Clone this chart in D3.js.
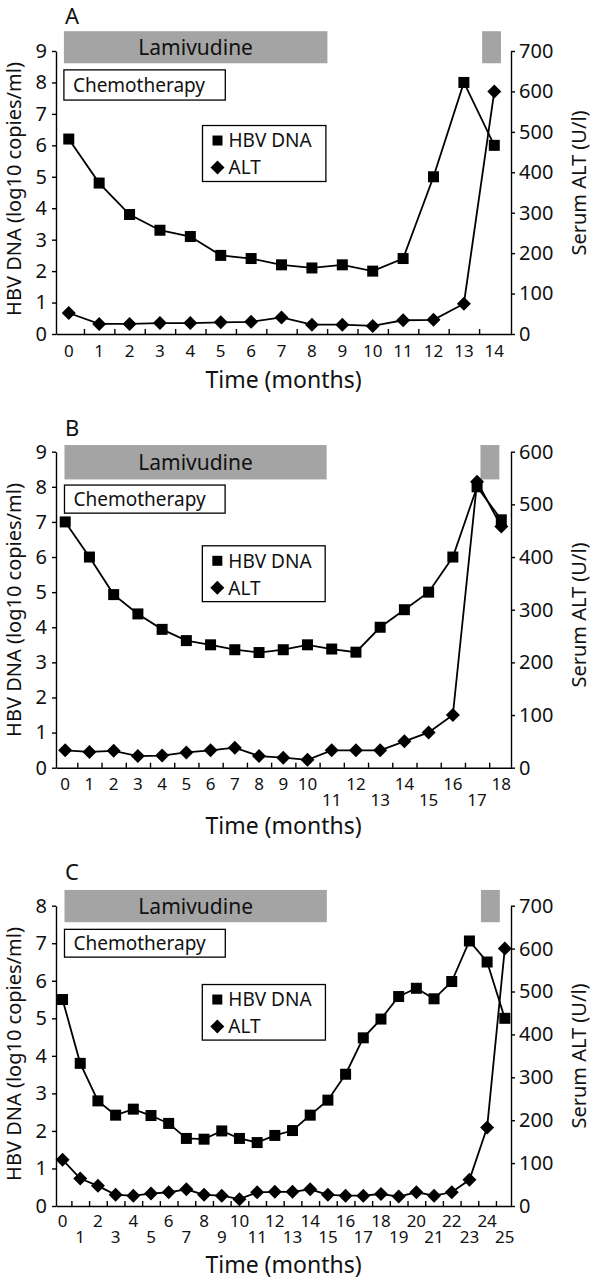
<!DOCTYPE html>
<html><head><meta charset="utf-8">
<script src="https://cdnjs.cloudflare.com/ajax/libs/d3/7.8.5/d3.min.js"></script>
<style>
body{margin:0;background:#fff}
svg{display:block}
text{font-family:'Noto Sans',sans-serif;fill:#111}
</style>
</head><body>
<svg id="chart" width="594" height="1280"></svg>
<script>
// ---------- DATA ----------
const monthsA = [0,1,2,3,4,5,6,7,8,9,10,11,12,13,14];
const hbvA = [6.2,4.8,3.8,3.3,3.1,2.5,2.4,2.2,2.1,2.2,2.0,2.4,5.0,8.0,6.0];
const altA = [52,25,25,27,27,29,30,41,23,23,20,34,35,75,600];

const monthsB = [0,1,2,3,4,5,6,7,8,9,10,11,12,13,14,15,16,17,18];
const hbvB = [7.0,6.0,4.93,4.38,3.94,3.62,3.5,3.36,3.28,3.36,3.5,3.38,3.29,4.0,4.5,5.0,6.0,8.0,7.06];
const altB = [33,30,32,22,23,29,33,38,22,19,15,33,33,33,50,67,100,543,458];

const monthsC = [0,1,2,3,4,5,6,7,8,9,10,11,12,13,14,15,16,17,18,19,20,21,22,23,24,25];
const hbvC = [5.5,3.8,2.8,2.42,2.58,2.41,2.2,1.8,1.78,2.0,1.8,1.69,1.88,2.01,2.42,2.82,3.51,4.48,4.98,5.58,5.8,5.52,5.98,7.06,6.5,5.0];
const altC = [108,64,47,26,24,29,32,39,26,24,16,32,33,33,39,26,24,24,28,22,32,24,32,61,183,600];

// tick labels drawn on the lower row
const lowerRowA = [];
const lowerRowB = [11,13,15,17];
const lowerRowC = [1,3,5,7,9,11,13,15,17,19,21,23,25];

const leftTicksA = [0,1,2,3,4,5,6,7,8,9];
const rightTicksA = [0,100,200,300,400,500,600,700];
const leftTicksB = [0,1,2,3,4,5,6,7,8,9];
const rightTicksB = [0,100,200,300,400,500,600];
const leftTicksC = [0,1,2,3,4,5,6,7,8];
const rightTicksC = [0,100,200,300,400,500,600,700];

const seriesNames = ["HBV DNA","ALT"];
const leftTitle = "HBV DNA (log10 copies/ml)";
const rightTitle = "Serum ALT (U/l)";
const xTitle = "Time (months)";

// ---------- LAYOUT ----------
const panels = [
  {label:"A", months:monthsA, hbv:hbvA, alt:altA, lower:lowerRowA, lt:leftTicksA, rt:rightTicksA,
   yMax:9, altMax:700, xDomain:[-0.42,14.55], yTop:51, yBot:334,
   lam:[-0.16,8.51,9.63,8.61], lam2:[13.6,14.22], chemo:[-0.16,5.15,8.40,7.44], legend:[4.4,8.46,6.63,4.85],
   labelY:24, leftTitleY:189, rightTitleY:183, xTitleY:388, row1:357, row2:373},
  {label:"B", months:monthsB, hbv:hbvB, alt:altB, lower:lowerRowB, lt:leftTicksB, rt:rightTicksB,
   yMax:9, altMax:600, xDomain:[-0.38,18.4], yTop:451.7, yBot:767.7,
   lam:[-0.03,10.79,9.19,8.21], lam2:[17.14,17.92], chemo:[-0.03,6.6,8.05,7.25], legend:[5.66,10.73,6.32,4.73],
   labelY:436, leftTitleY:610, rightTitleY:615, xTitleY:834, row1:790, row2:806},
  {label:"C", months:monthsC, hbv:hbvC, alt:altC, lower:lowerRowC, lt:leftTicksC, rt:rightTicksC,
   yMax:8, altMax:700, xDomain:[-0.37,25.35], yTop:905.7, yBot:1206,
   lam:[0.11,14.94,8.42,7.56], lam2:[23.65,24.72], chemo:[0.11,9.2,7.37,6.63], legend:[7.9,14.86,5.90,4.42],
   labelY:880, leftTitleY:1054, rightTitleY:1056, xTitleY:1273, row1:1227, row2:1243}
];

const xLeft = 56, xRight = 511;
const gray = "#a4a4a4";
const svg = d3.select("#chart");

function square(g, x, y, s){ g.append("rect").attr("x",x-s/2).attr("y",y-s/2).attr("width",s).attr("height",s).attr("fill","#000"); }
function diamond(g, x, y, r){ g.append("path").attr("d",`M${x},${y-r}L${x+r},${y}L${x},${y+r}L${x-r},${y}Z`).attr("fill","#000"); }

panels.forEach(p => {
  const g = svg.append("g");
  const x = d3.scaleLinear().domain(p.xDomain).range([xLeft, xRight]);
  const yL = d3.scaleLinear().domain([0,p.yMax]).range([p.yBot, p.yTop]);
  const yR = d3.scaleLinear().domain([0,p.altMax]).range([p.yBot, p.yTop]);

  // panel letter
  g.append("text").attr("x",65).attr("y",p.labelY).attr("font-size",22).text(p.label);

  // treatment bars
  g.append("rect").attr("x",x(p.lam[0])).attr("y",yL(p.lam[2]))
    .attr("width",x(p.lam[1])-x(p.lam[0])).attr("height",yL(p.lam[3])-yL(p.lam[2])).attr("fill",gray);
  g.append("rect").attr("x",x(p.lam2[0])).attr("y",yL(p.lam[2]))
    .attr("width",x(p.lam2[1])-x(p.lam2[0])).attr("height",yL(p.lam[3])-yL(p.lam[2])).attr("fill",gray);
  g.append("text").attr("x",(x(p.lam[0])+x(p.lam[1]))/2).attr("y",(yL(p.lam[2])+yL(p.lam[3]))/2)
    .attr("dy","0.36em").attr("text-anchor","middle").attr("font-size",21).text("Lamivudine");

  g.append("rect").attr("x",x(p.chemo[0])).attr("y",yL(p.chemo[2]))
    .attr("width",x(p.chemo[1])-x(p.chemo[0])).attr("height",yL(p.chemo[3])-yL(p.chemo[2]))
    .attr("fill","#fff").attr("stroke","#000").attr("stroke-width",1.3);
  g.append("text").attr("x",x(p.chemo[0])+9).attr("y",(yL(p.chemo[2])+yL(p.chemo[3]))/2)
    .attr("dy","0.36em").attr("font-size",19).text("Chemotherapy");

  // axes
  const axL = d3.axisLeft(yL).tickValues(p.lt).tickSize(4).tickPadding(5).tickSizeOuter(0);
  const axR = d3.axisRight(yR).tickValues(p.rt).tickSize(4).tickPadding(4).tickSizeOuter(0);
  const halfTicks = p.months.slice(0, p.months.length-1).map(m => m + 0.5);
  const axB = d3.axisBottom(x).tickValues(halfTicks).tickSize(-5).tickFormat("").tickSizeOuter(0);

  const gl = g.append("g").attr("transform",`translate(${xLeft},0)`).call(axL);
  const gr = g.append("g").attr("transform",`translate(${xRight},0)`).call(axR);
  const gb = g.append("g").attr("transform",`translate(0,${p.yBot})`).call(axB);
  [gl,gr,gb].forEach(a => {
    a.selectAll("path,line").attr("stroke","#000").attr("stroke-width",1.4);
    a.selectAll("text").attr("font-size",20).attr("fill","#111").attr("font-family","'Noto Sans',sans-serif");
  });

  // x tick labels (two rows where crowded)
  g.selectAll(".xl").data(p.months).enter().append("text")
    .attr("x", d => x(d)).attr("y", d => p.lower.includes(d) ? p.row2 : p.row1)
    .attr("text-anchor","middle").attr("font-size",17).text(d => d);

  // axis titles
  g.append("text").attr("x",(xLeft+xRight)/2).attr("y",p.xTitleY).attr("text-anchor","middle")
    .attr("font-size",23).text(xTitle);
  g.append("text").attr("transform",`translate(14,${p.leftTitleY}) rotate(-90)`).attr("dy","0.36em")
    .attr("text-anchor","middle").attr("font-size",20).text(leftTitle);
  g.append("text").attr("transform",`translate(579,${p.rightTitleY}) rotate(-90)`).attr("dy","0.36em")
    .attr("text-anchor","middle").attr("font-size",20).text(rightTitle);

  // legend
  const lx0 = x(p.legend[0]), lx1 = x(p.legend[1]), ly0 = yL(p.legend[2]), ly1 = yL(p.legend[3]);
  g.append("rect").attr("x",lx0).attr("y",ly0).attr("width",lx1-lx0).attr("height",ly1-ly0)
    .attr("fill","#fff").attr("stroke","#000").attr("stroke-width",1.3);
  square(g, lx0+15, ly0+15, 10);
  diamond(g, lx0+15, ly0+42, 7);
  g.append("text").attr("x",lx0+26).attr("y",ly0+15).attr("dy","0.36em").attr("font-size",19).text(seriesNames[0]);
  g.append("text").attr("x",lx0+26).attr("y",ly0+42).attr("dy","0.36em").attr("font-size",19).text(seriesNames[1]);

  // series
  const hbvPts = p.months.map((m,i) => [x(m), yL(p.hbv[i])]);
  const altPts = p.months.map((m,i) => [x(m), yR(p.alt[i])]);
  const line = d3.line();
  g.append("path").attr("d",line(hbvPts)).attr("fill","none").attr("stroke","#000").attr("stroke-width",1.8);
  g.append("path").attr("d",line(altPts)).attr("fill","none").attr("stroke","#000").attr("stroke-width",1.8);
  hbvPts.forEach(pt => square(g, pt[0], pt[1], 11));
  altPts.forEach(pt => diamond(g, pt[0], pt[1], 7));
});
</script>
</body></html>
